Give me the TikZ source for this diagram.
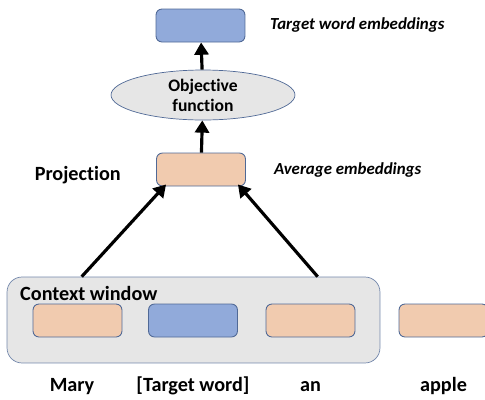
\documentclass[tikz,border=0pt]{standalone}
\usepackage{fontspec}
\setmainfont{Carlito}[Ligatures=NoCommon]
\usetikzlibrary{positioning, arrows.meta, shapes.geometric, calc}

\definecolor{embblue}{RGB}{145,170,218}
\definecolor{embpeach}{RGB}{241,203,175}
\definecolor{embedge}{RGB}{80,105,150}
\definecolor{winfill}{RGB}{230,230,230}

\begin{document}
\begin{tikzpicture}[
  x=0.02cm, y=-0.02cm,
  emb/.style={draw=embedge, rounded corners=1.2mm, minimum width=1.78cm,
              minimum height=0.66cm, line width=0.5pt},
  tgt/.style={emb, fill=embblue},
  ctx/.style={emb, fill=embpeach},
  obj/.style={ellipse, draw=embedge, fill=winfill, minimum width=3.68cm,
              minimum height=1cm, inner sep=0pt, align=center,
              font=\fontsize{10}{11.5}\selectfont\bfseries},
  arr/.style={-{Triangle[length=7pt, width=8pt]}, line width=1.8pt, black},
  note/.style={font=\fontsize{9.6}{11}\selectfont\bfseries\itshape, anchor=west},
  lbl/.style={font=\fontsize{11.5}{13}\selectfont\bfseries},
  word/.style={lbl, text height=1.7ex, text depth=0.5ex},
]
\useasboundingbox (0,0) rectangle (485,400);

% === Window ===
\node[draw=embedge!80, fill=winfill, rounded corners=3mm, minimum width=7.46cm,
      minimum height=1.72cm] (win) at (193.5,320) {};
\node[lbl, anchor=west] (wlbl) at (14,293) {Context window};

% === Word embeddings ===
\node[ctx] (w1) at (77.5,320.5) {};
\node[tgt] (w2) at (193,320.5) {};
\node[ctx] (w3) at (310.5,320.5) {};
\node[ctx] (w4) at (443.5,320.5) {};

\node[word, below=0.68cm of w1, xshift=-0.11cm] (t1) {Mary};
\node[word, below=0.68cm of w2] (t2) {[Target word]};
\node[word, below=0.68cm of w3] (t3) {an};
\node[word, below=0.68cm of w4] (t4) {apple};

% === Upper part ===
\node[ctx] (proj) at (201,169.5) {};
\node[lbl, anchor=east] (plbl) at (127,175) {Projection};
\node[note] (pnote) at (268,170) {Average embeddings};

\node[obj] (objf) at (203,95) {Objective\\function};

\node[tgt] (out) at (200.5,25.5) {};
\node[note] (onote) at (264,25) {Target word embeddings};

% === Arrows ===
\coordinate (cl) at ($(win.north west)+(75,0)$);
\coordinate (cr) at ($(win.north west)+(311,0)$);
\coordinate (pl) at ($(proj.south west)+(10,-2)$);
\coordinate (pr) at ($(proj.south east)+(-8,-2)$);
\draw[arr] (cl) -- (pl);
\draw[arr] (cr) -- (pr);
\draw[arr] (proj) -- (objf);
\draw[arr] (objf) -- (out);

\end{tikzpicture}
\end{document}
